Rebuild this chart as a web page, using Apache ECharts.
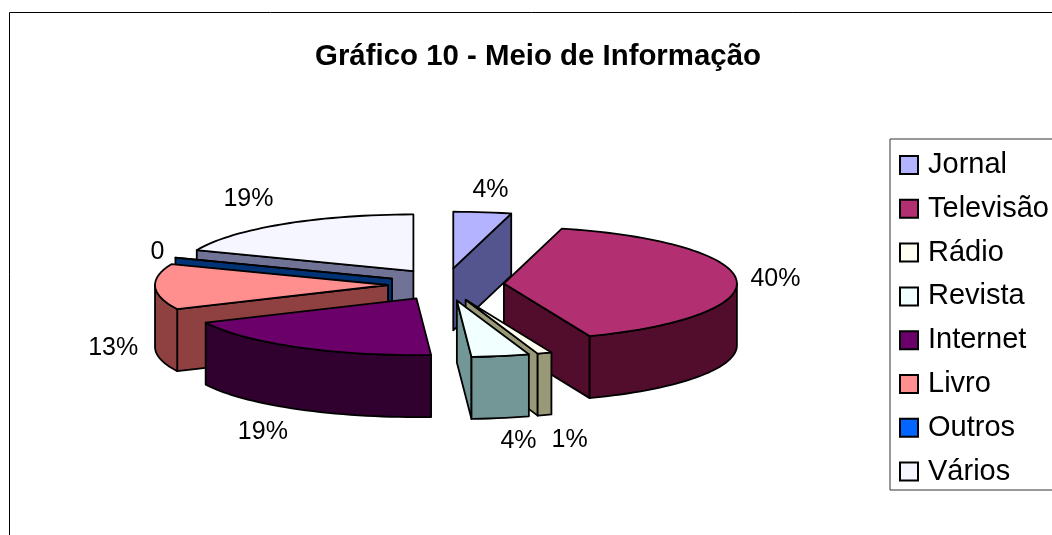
<!DOCTYPE html>
<html>
<head>
<meta charset="utf-8">
<script src="https://cdn.jsdelivr.net/npm/echarts@6/dist/echarts.min.js"></script>
<style>
	html, body { margin: 0; padding: 0; background: #fff; overflow: hidden; }
	#chart { width: 1052px; height: 535px; }
</style>
</head>
<body>
<div id="chart"></div>
<script>
const categories = ['Jornal', 'Televisão', 'Rádio', 'Revista', 'Internet', 'Livro', 'Outros', 'Vários'];
const percentValues = [4, 40, 1, 4, 19, 13, 0, 19];
const labelTexts = ['4%', '40%', '1%', '4%', '19%', '13%', '0', '19%'];

const topColors = ['#b3b3ff', '#b23071', '#fffff2', '#f2ffff', '#6b006b', '#ff8f8f', '#0066ff', '#f5f6ff'];
const wallColors = ['#54548f', '#520c2c', '#999977', '#739797', '#30002f', '#8f4040', '#003375', '#707296'];

// back to front, the pie has no depth sorting of its own
const drawOrder = [7, 6, 5, 4, 0, 1, 2, 3];
// label distance from the rim point of each slice
const labelShift = [[8, -22], [39, -1], [25, 87], [18, 85], [-35, 85], [-42, 61], [-18, -6], [-34, -25]];

const centerX = 446, centerY = 284.5;
const radius = 233, squash = 0.243, depth = 62;
const explode = 58, explodeSquash = 0.28;

const rad = (deg) => deg * Math.PI / 180;
const total = percentValues.reduce((a, b) => a + b, 0);

// angles clockwise from 12 o'clock
const startAngle = (i) => percentValues.slice(0, i).reduce((a, b) => a + b, 0) / total * 360;
const endAngle = (i) => startAngle(i) + percentValues[i] / total * 360;

const renderSlice = (i) => (params, api) => {
	const a = startAngle(i), b = endAngle(i), mid = (a + b) / 2;
	const apexX = centerX + explode * Math.sin(rad(mid));
	const apexY = centerY - explode * explodeSquash * Math.cos(rad(mid));
	const rim = (deg, down) => [
		apexX + radius * Math.sin(rad(deg)),
		apexY - radius * squash * Math.cos(rad(deg)) + (down || 0)
	];
	const border = { stroke: '#000', lineWidth: 1.8, lineJoin: 'round' };
	const poly = (points, fill) => ({
		type: 'polygon',
		shape: { points: points },
		style: Object.assign({ fill: fill }, border)
	});
	const face = (deg) => poly([[apexX, apexY], rim(deg), rim(deg, depth), [apexX, apexY + depth]], wallColors[i]);
	const children = [];

	if (Math.sin(rad(a)) < 0) children.push(face(a));
	if (Math.sin(rad(b)) > 0) children.push(face(b));

	// outer wall, only the front part between 90 and 270 degrees
	const wallFrom = Math.max(a, 90), wallTo = Math.min(b, 270);
	if (wallTo > wallFrom) {
		const upper = [], lower = [];
		for (let d = wallFrom; d < wallTo; d += 2) {
			upper.push(rim(d));
			lower.unshift(rim(d, depth));
		}
		upper.push(rim(wallTo));
		lower.unshift(rim(wallTo, depth));
		children.push(poly(upper.concat(lower), wallColors[i]));
	}

	const topPoints = [[apexX, apexY]];
	for (let d = a; d < b; d += 2) topPoints.push(rim(d));
	topPoints.push(rim(b));
	children.push(poly(topPoints, topColors[i]));

	const anchor = rim(mid);
	children.push({
		type: 'text',
		x: anchor[0] + labelShift[i][0],
		y: anchor[1] + labelShift[i][1],
		style: {
			text: labelTexts[i],
			fill: '#000',
			font: '25px "Liberation Sans"',
			textAlign: 'center',
			textVerticalAlign: 'middle'
		}
	});
	return { type: 'group', children: children };
};

let chart = echarts.init(document.getElementById('chart'), null, { renderer: 'canvas' });
chart.setOption({
	animation: false,
	backgroundColor: '#fff',
	title: {
		text: 'Gráfico 10 - Meio de Informação',
		left: 533,
		top: 37,
		textAlign: 'center',
		textStyle: { fontFamily: 'Liberation Sans', fontSize: 29.4, fontWeight: 'bold', color: '#000' }
	},
	legend: {
		orient: 'vertical',
		left: 890,
		top: 139,
		padding: [9, 9, 1.4, 9],
		itemWidth: 18,
		itemHeight: 18,
		itemGap: 9.8,
		borderColor: '#333',
		borderWidth: 1,
		selectedMode: false,
		icon: 'rect',
		itemStyle: { borderColor: '#000', borderWidth: 2 },
		textStyle: { fontFamily: 'Liberation Sans', fontSize: 29, lineHeight: 32, color: '#000', padding: [2, 0, 0, 5] },
		data: categories
	},
	graphic: [{
		type: 'rect',
		shape: { x: 9.5, y: 12.5, width: 1200, height: 700 },
		style: { fill: 'none', stroke: '#000', lineWidth: 1 },
		silent: true
	}],
	series: categories.map((name, i) => ({
		type: 'custom',
		name: name,
		coordinateSystem: 'none',
		z: 2 + drawOrder.indexOf(i),
		itemStyle: { color: topColors[i] },
		renderItem: renderSlice(i),
		data: [percentValues[i]]
	}))
});
</script>
</body>
</html>
